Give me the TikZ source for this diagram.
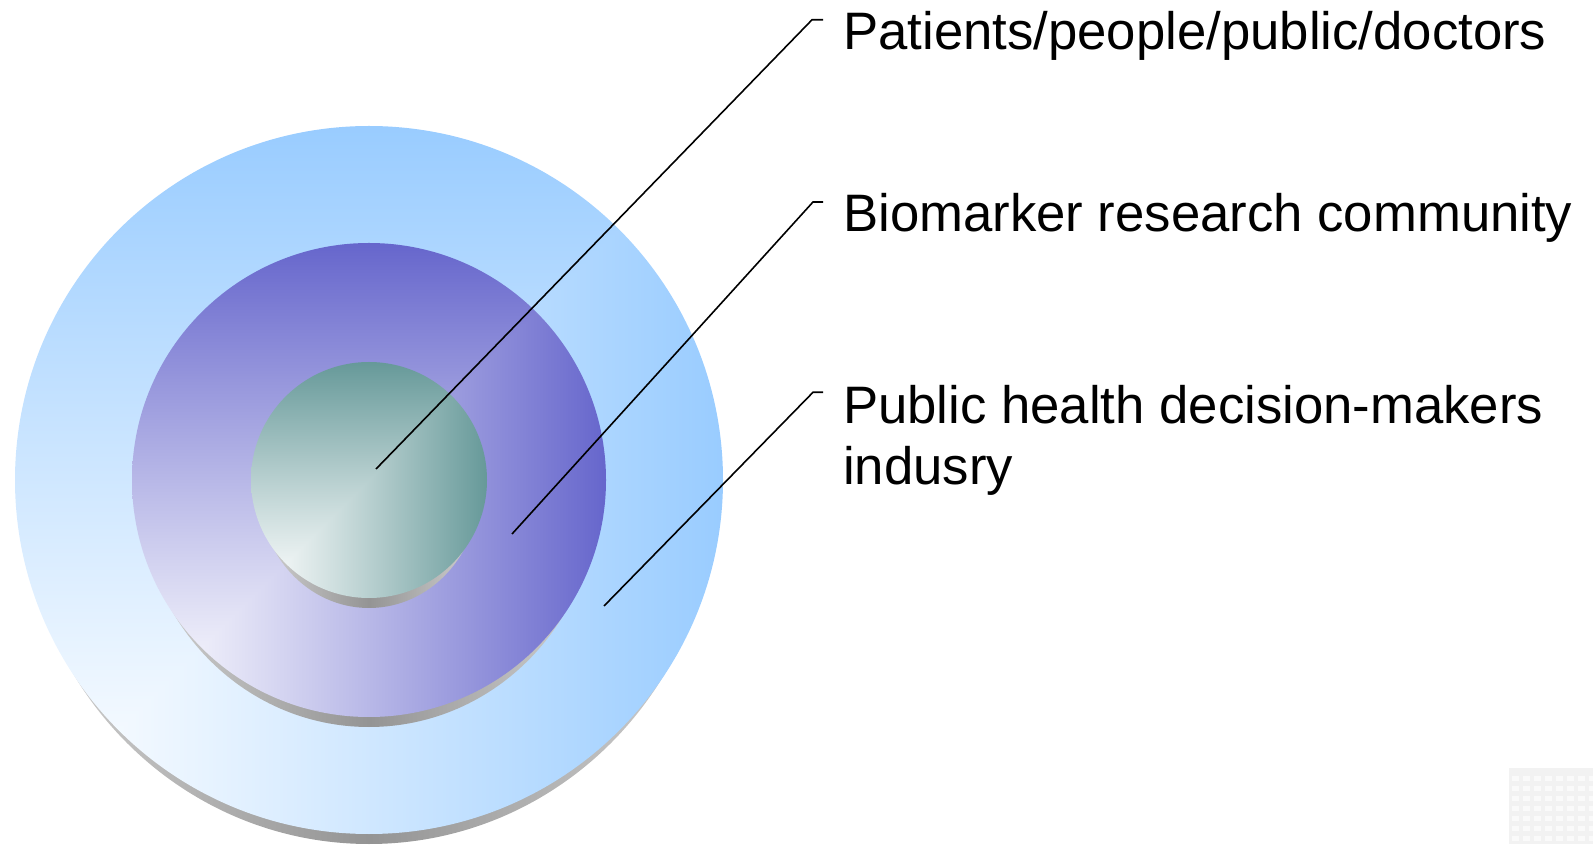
\documentclass[tikz,border=0pt]{standalone}
\usepackage{fontspec}
\setmainfont{Liberation Sans}
\usepackage{xcolor}
\usepackage{tikz}
\usetikzlibrary{calc}

% corner gradient: white at the lower left of the box, rgb #2 #3 #4 towards top and right
\newcommand\cornershading[4]{%
  \pgfdeclarefunctionalshading{#1}{\pgfpoint{-50bp}{-50bp}}{\pgfpoint{50bp}{50bp}}{}{%
    25 add exch 25 add 2 copy lt {exch} if pop 50 div
    dup 1 gt {pop 1} if dup 0 lt {pop 0} if
    1.1 exp
    dup 1 #2 sub mul 1 exch sub
    exch dup 1 #3 sub mul 1 exch sub
    exch 1 #4 sub mul 1 exch sub}}
\cornershading{outerring}{0.6}{0.8}{1}
\cornershading{middlering}{0.4}{0.4}{0.8}
\cornershading{innerdisc}{0.4}{0.6}{0.6}

\begin{document}
\begin{tikzpicture}[x=1pt, y=1pt,
  discshadow/.style={left color=black!18, right color=black!18, middle color=black!42},
  leaderline/.style={line width=1.6pt, black},
  lbltext/.style={anchor=base west, inner sep=0pt, align=left, font=\fontsize{52.7}{61.5}\selectfont}]

\useasboundingbox (0,0) rectangle (1593,844);

\coordinate (centre) at (369,364);

% Outer disc
\shade[discshadow] ($(centre)+(0,-10)$) ellipse [x radius=346, y radius=354];
\shade[shading=outerring] (centre) circle [radius=354];

% Middle disc
\shade[discshadow] ($(centre)+(0,-10)$) ellipse [x radius=229, y radius=237];
\shade[shading=middlering] (centre) circle [radius=237];

% Inner disc
\shade[discshadow] ($(centre)+(0,-10)$) ellipse [x radius=110, y radius=118];
\shade[shading=innerdisc] (centre) circle [radius=118];

% Labels (base of a two-line node is its last line)
\node[lbltext] (patients) at (843,794.7) {Patients/people/public/doctors};
\node[lbltext] (biomarker) at (843,612.5) {Biomarker research community};
\node[lbltext] (decision) at (843,359.2) {Public health decision-makers\\indusry};

% Leader ends
\coordinate (inner-pt) at ($(centre)+(7,11)$);
\coordinate (middle-pt) at ($(centre)+(143,-54)$);
\coordinate (outer-pt) at ($(centre)+(235,-126)$);
\coordinate (patients-tip) at ($(patients.base west)+(-20,29.5)$);
\coordinate (biomarker-tip) at ($(biomarker.base west)+(-20,29.5)$);
\coordinate (decision-tip) at ($(decision.base west)+(-20,92.5)$);

% Leaders
\draw[leaderline] (inner-pt) -- ([xshift=-11pt]patients-tip) -- (patients-tip);
\draw[leaderline] (middle-pt) -- ([xshift=-10pt]biomarker-tip) -- (biomarker-tip);
\draw[leaderline] (outer-pt) -- ([xshift=-10pt]decision-tip) -- (decision-tip);

% Faint mark, bottom right
\fill[black!5] (1509,0) rectangle (1593,76);
\foreach \i in {0,...,7}
  \foreach \j in {0,...,6}
    \fill[black!2] (1512+\i*11,3+\j*10) rectangle ++(7,5);

\end{tikzpicture}
\end{document}
